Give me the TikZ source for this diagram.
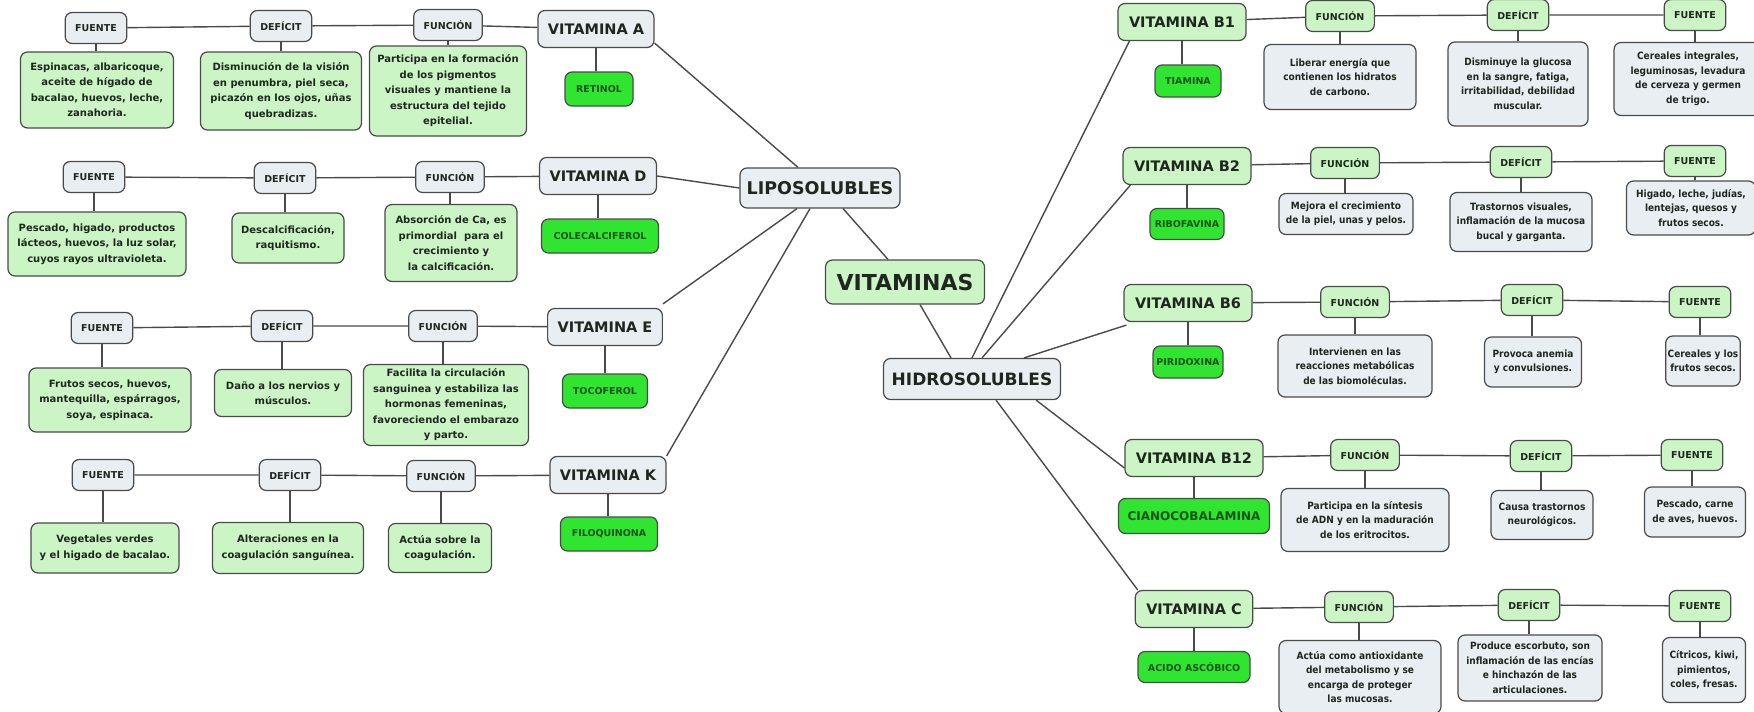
\documentclass[tikz,border=0pt]{standalone}
\usepackage{fontspec}
\setmainfont{DejaVu Sans}
\newfontfamily\rfont{DejaVu Sans}[FakeStretch=0.9]
\definecolor{lnc}{HTML}{4A4A4A}
\definecolor{gbox}{HTML}{E9EEF2}
\definecolor{lgreen}{HTML}{CCF5C6}
\definecolor{bgreen}{HTML}{2FE52F}
\definecolor{txt}{HTML}{1E261E}
\definecolor{dgreen}{HTML}{155215}
\tikzset{
 base/.style={draw=lnc, line width=1.2pt, rounded corners=7pt, align=center, text=txt, inner sep=2pt},
 lblL/.style={base, fill=gbox, font=\bfseries\fontsize{9.5}{11}\selectfont, minimum height=31pt, inner xsep=10pt},
 lblR/.style={lblL, fill=lgreen},
 boxL/.style={base, fill=lgreen, font=\bfseries\fontsize{10}{15.5}\selectfont},
 boxR/.style={base, fill=gbox, font=\rfont\bfseries\fontsize{10}{14.5}\selectfont},
 vitL/.style={base, fill=gbox, font=\bfseries\fontsize{14.5}{16}\selectfont, minimum height=37pt, inner xsep=10pt},
 vitR/.style={vitL, fill=lgreen, inner xsep=11pt},
 nm/.style={base, fill=bgreen, text=dgreen, font=\bfseries\fontsize{9.5}{11}\selectfont, minimum height=34pt},
 conn/.style={draw=lnc, line width=1.4pt},
}
\begin{document}
\begin{tikzpicture}[x=1pt,y=-1pt]
\useasboundingbox (0,0) rectangle (1754,712);
\fill[white] (0,0) rectangle (1754,712);

% ---------- centre ----------
\node[base, fill=gbox, font=\bfseries\fontsize{17.5}{20}\selectfont, minimum width=160pt, minimum height=40pt] (lipo) at (820,188) {LIPOSOLUBLES};
\node[base, fill=lgreen, font=\bfseries\fontsize{22}{24}\selectfont, minimum width=159pt, minimum height=44pt] (vit) at (905,282) {VITAMINAS};
\node[base, fill=gbox, font=\bfseries\fontsize{17}{20}\selectfont, minimum width=177pt, minimum height=41pt] (hidro) at (972,379) {HIDROSOLUBLES};

% ---------- left: vitamina A ----------
\node[lblL] (fA) at (96,28) {FUENTE};
\node[lblL] (dA) at (281,26) {DEFÍCIT};
\node[lblL] (nA) at (448,25) {FUNCIÓN};
\node[vitL] (vA) at (596,29) {VITAMINA A};
\node[nm, minimum width=68pt] (rA) at (599,89) {RETINOL};
\node[boxL, minimum width=153pt, minimum height=76pt] (tfA) at (97,90) {Espinacas, albaricoque,\\aceite de hígado de\\bacalao, huevos, leche,\\zanahoria.};
\node[boxL, minimum width=161pt, minimum height=78pt] (tdA) at (281,91) {Disminución de la visión\\en penumbra, piel seca,\\picazón en los ojos, uñas\\quebradizas.};
\node[boxL, minimum width=157pt, minimum height=90pt] (tnA) at (448,91) {Participa en la formación\\de los pigmentos\\visuales y mantiene la\\estructura del tejido\\epitelial.};

% ---------- left: vitamina D ----------
\node[lblL] (fD) at (94,177) {FUENTE};
\node[lblL] (dD) at (285,178) {DEFÍCIT};
\node[lblL] (nD) at (450,177) {FUNCIÓN};
\node[vitL] (vD) at (598,176) {VITAMINA D};
\node[nm, minimum width=117pt] (rD) at (600,236) {COLECALCIFEROL};
\node[boxL, minimum width=178pt, minimum height=64pt] (tfD) at (97,244) {Pescado, higado, productos\\lácteos, huevos, la luz solar,\\cuyos rayos ultravioleta.};
\node[boxL, minimum width=112pt, minimum height=50pt] (tdD) at (288,238) {Descalcificación,\\raquitismo.};
\node[boxL, minimum width=132pt, minimum height=77pt] (tnD) at (451,243) {Absorción de Ca, es\\primordial\ \ para el\\crecimiento y\\la calcificación.};

% ---------- left: vitamina E ----------
\node[lblL] (fE) at (102,328) {FUENTE};
\node[lblL] (dE) at (282,326) {DEFÍCIT};
\node[lblL] (nE) at (443,326) {FUNCIÓN};
\node[vitL] (vE) at (605,327) {VITAMINA E};
\node[nm, minimum width=85pt] (rE) at (605,391) {TOCOFEROL};
\node[boxL, minimum width=162pt, minimum height=64pt] (tfE) at (110,400) {Frutos secos, huevos,\\mantequilla, espárragos,\\soya, espinaca.};
\node[boxL, minimum width=137pt, minimum height=47pt] (tdE) at (283,393) {Daño a los nervios y\\músculos.};
\node[boxL, minimum width=165pt, minimum height=81pt] (tnE) at (446,405) {Facilita la circulación\\sanguinea y estabiliza las\\hormonas femeninas,\\favoreciendo el embarazo\\y parto.};

% ---------- left: vitamina K ----------
\node[lblL] (fK) at (103,475) {FUENTE};
\node[lblL] (dK) at (290,475) {DEFÍCIT};
\node[lblL] (nK) at (441,476) {FUNCIÓN};
\node[vitL] (vK) at (608,475) {VITAMINA K};
\node[nm, minimum width=97pt] (rK) at (609,534) {FILOQUINONA};
\node[boxL, minimum width=148pt, minimum height=50pt] (tfK) at (105,548) {Vegetales verdes\\y el higado de bacalao.};
\node[boxL, minimum width=151pt, minimum height=51pt] (tdK) at (288,548) {Alteraciones en la\\coagulación sanguínea.};
\node[boxL, minimum width=103pt, minimum height=49pt] (tnK) at (440,548) {Actúa sobre la\\coagulación.};

% ---------- right: B1 ----------
\node[vitR] (b1) at (1182,22) {VITAMINA B1};
\node[nm, minimum width=66pt, minimum height=32pt] (t1) at (1188,81) {TIAMINA};
\node[lblR] (fn1) at (1340,16) {FUNCIÓN};
\node[lblR] (df1) at (1518,15) {DEFÍCIT};
\node[lblR] (fu1) at (1695,15) {FUENTE};
\node[boxR, minimum width=152pt, minimum height=65pt] (x1) at (1340,77) {Liberar energía que\\contienen los hidratos\\de carbono.};
\node[boxR, minimum width=140pt, minimum height=84pt] (y1) at (1518,84) {Disminuye la glucosa\\en la sangre, fatiga,\\irritabilidad, debilidad\\muscular.};
\node[boxR, minimum width=148pt, minimum height=73pt] (z1) at (1688,79) {Cereales integrales,\\leguminosas, levadura\\de cerveza y germen\\de trigo.};

% ---------- right: B2 ----------
\node[vitR] (b2) at (1187,166) {VITAMINA B2};
\node[nm, minimum width=74pt, minimum height=31pt] (t2) at (1187,224) {RIBOFAVINA};
\node[lblR] (fn2) at (1345,163) {FUNCIÓN};
\node[lblR] (df2) at (1521,162) {DEFÍCIT};
\node[lblR] (fu2) at (1695,161) {FUENTE};
\node[boxR, minimum width=134pt, minimum height=41pt] (x2) at (1346,214) {Mejora el crecimiento\\de la piel, unas y pelos.};
\node[boxR, minimum width=142pt, minimum height=59pt] (y2) at (1521,222) {Trastornos visuales,\\inflamación de la mucosa\\bucal y garganta.};
\node[boxR, minimum width=129pt, minimum height=54pt] (z2) at (1691,208) {Higado, leche, judías,\\lentejas, quesos y\\frutos secos.};

% ---------- right: B6 ----------
\node[vitR] (b6) at (1188,303) {VITAMINA B6};
\node[nm, minimum width=70pt, minimum height=32pt] (t6) at (1188,362) {PIRIDOXINA};
\node[lblR] (fn6) at (1355,302) {FUNCIÓN};
\node[lblR] (df6) at (1532,300) {DEFÍCIT};
\node[lblR] (fu6) at (1700,302) {FUENTE};
\node[boxR, minimum width=154pt, minimum height=62pt] (x6) at (1355,366) {Intervienen en las\\reacciones metabólicas\\de las biomoléculas.};
\node[boxR, minimum width=97pt, minimum height=50pt] (y6) at (1533,362) {Provoca anemia\\y convulsiones.};
\node[boxR, minimum width=73pt, minimum height=50pt] (z6) at (1703,361) {Cereales y los\\frutos secos.};

% ---------- right: B12 ----------
\node[vitR] (b12) at (1194,458) {VITAMINA B12};
\node[nm, minimum width=151pt, minimum height=35pt, font=\bfseries\fontsize{12}{14}\selectfont] (t12) at (1194,516) {CIANOCOBALAMINA};
\node[lblR] (fn12) at (1365,455) {FUNCIÓN};
\node[lblR] (df12) at (1541,456) {DEFÍCIT};
\node[lblR] (fu12) at (1692,455) {FUENTE};
\node[boxR, minimum width=168pt, minimum height=63pt] (x12) at (1365,520) {Participa en la síntesis\\de ADN y en la maduración\\de los eritrocitos.};
\node[boxR, minimum width=102pt, minimum height=49pt] (y12) at (1542,515) {Causa trastornos\\neurológicos.};
\node[boxR, minimum width=101pt, minimum height=50pt] (z12) at (1695,512) {Pescado, carne\\de aves, huevos.};

% ---------- right: C ----------
\node[vitR] (bc) at (1194,609) {VITAMINA C};
\node[nm, minimum width=112pt, minimum height=31pt] (tc) at (1194,667) {ACIDO ASCÓBICO};
\node[lblR] (fnc) at (1359,607) {FUNCIÓN};
\node[lblR] (dfc) at (1529,605) {DEFÍCIT};
\node[lblR] (fuc) at (1700,606) {FUENTE};
\node[boxR, minimum width=162pt, minimum height=73pt] (xc) at (1360,677) {Actúa como antioxidante\\del metabolismo y se\\encarga de proteger\\las mucosas.};
\node[boxR, minimum width=144pt, minimum height=66pt] (yc) at (1530,668) {Produce escorbuto, son\\inflamación de las encías\\e hinchazón de las\\articulaciones.};
\node[boxR, minimum width=83pt, minimum height=65pt] (zc) at (1704,670) {Cítricos, kiwi,\\pimientos,\\coles, fresas.};

% ---------- connectors: centre ----------
\draw[conn] ([xshift=-17pt]vit.north) -- ([xshift=23pt]lipo.south);
\draw[conn] ([xshift=15pt]vit.south) -- ([xshift=-21pt]hidro.north);
\draw[conn] ([xshift=-22pt]lipo.north) -- ([yshift=5pt]vA.south east);
\draw[conn] (lipo.west) -- (vD.east);
\draw[conn] ([xshift=-23pt]lipo.south) -- ([yshift=4pt]vE.north east);
\draw[conn] ([xshift=-10pt]lipo.south) -- (vK.north east);
\draw[conn] (hidro.north) -- ([xshift=12pt]b1.south west);
\draw[conn] ([xshift=10pt]hidro.north) -- ([xshift=8pt]b2.south west);
\draw[conn] ([xshift=52pt]hidro.north) -- ([xshift=3pt,yshift=-3pt]b6.south west);
\draw[conn] ([xshift=-25pt]hidro.south east) -- ([yshift=-10pt]b12.west);
\draw[conn] ([xshift=24pt]hidro.south) -- ([xshift=3pt]bc.north west);

% ---------- connectors: left rows ----------
\foreach \r in {A,D,E,K}{
  \draw[conn] (f\r) -- (d\r) -- (n\r) -- (v\r);
  \draw[conn] (f\r.south) -- (f\r.south |- tf\r.north);
  \draw[conn] (d\r.south) -- (d\r.south |- td\r.north);
  \draw[conn] (n\r.south) -- (n\r.south |- tn\r.north);
  \draw[conn] (v\r.south) -- (v\r.south |- r\r.north);
}
% ---------- connectors: right rows ----------
\foreach \r in {1,2,6,12,c}{
  \draw[conn] (b\r) -- (fn\r) -- (df\r) -- (fu\r);
  \draw[conn] (b\r.south) -- (b\r.south |- t\r.north);
  \draw[conn] (fn\r.south) -- (fn\r.south |- x\r.north);
  \draw[conn] (df\r.south) -- (df\r.south |- y\r.north);
  \draw[conn] (fu\r.south) -- (fu\r.south |- z\r.north);
}
\end{tikzpicture}
\end{document}
